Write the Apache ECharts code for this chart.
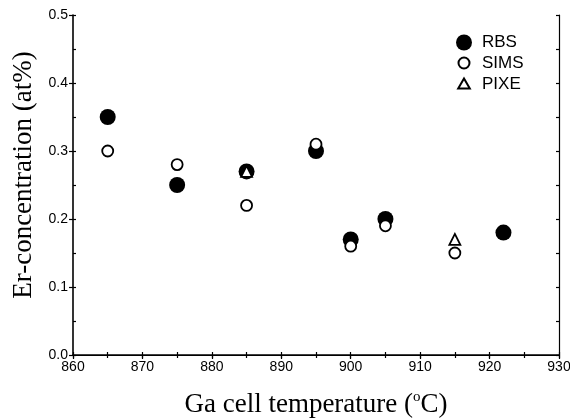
<!DOCTYPE html>
<html>
<head>
<meta charset="utf-8">
<script src="https://cdn.jsdelivr.net/npm/echarts@6/dist/echarts.min.js"></script>
<style>html,body{margin:0;padding:0;background:#fff}#c{width:570px;height:418px}</style>
</head>
<body>
<div id="c"></div>
<script>
var rbsX = [865, 875, 885, 895, 900, 905, 922];
var rbsY = [0.35, 0.25, 0.27, 0.30, 0.17, 0.20, 0.18];
var simsX = [865, 875, 885, 895, 900, 905, 915];
var simsY = [0.30, 0.28, 0.22, 0.31, 0.16, 0.19, 0.15];
var pixeX = [885, 915];
var pixeY = [0.27, 0.17];
var xTicks = [860, 870, 880, 890, 900, 910, 920, 930];
var yTicks = [0.0, 0.1, 0.2, 0.3, 0.4, 0.5];

function pairs(xs, ys) { return xs.map(function (x, i) { return [x, ys[i]]; }); }

var chart = echarts.init(document.getElementById('c'), null, {renderer: 'canvas'});
var lbl = {color: '#000', fontFamily: 'Liberation Sans, Arial', fontSize: 14};
var axisLineStyle = {color: '#000', width: 1.6};
var tickStyle = {color: '#000', width: 1.2};
var option = {
  backgroundColor: '#fff',
  animation: false,
  grid: {left: 73, top: 15, right: 11, bottom: 63, containLabel: false, outerBoundsMode: 'none'},
  legend: {
    orient: 'vertical', left: 455, top: 34, itemGap: 3, padding: 0,
    itemWidth: 16, itemHeight: 16,
    textStyle: {color: '#000', fontFamily: 'Liberation Sans, Arial', fontSize: 17, padding: [0, 0, 0, 5]},
    data: [
      {name: 'RBS', icon: 'circle'},
      {name: 'SIMS', icon: 'path://M0,0L0,0M16,16L16,16M13.5,8A5.5,5.5,0,1,1,2.5,8A5.5,5.5,0,1,1,13.5,8Z'},
      {name: 'PIXE', icon: 'path://M0,0L0,0M16,16L16,16M8,2.5L13.8,12.5L2.2,12.5Z'}
    ]
  },
  xAxis: [
    {type: 'value', position: 'bottom', min: xTicks[0], max: xTicks[xTicks.length - 1], interval: 10,
     axisLine: {lineStyle: axisLineStyle}, axisTick: {show: true, inside: false, length: 4, lineStyle: tickStyle},
     splitLine: {show: false},
     axisLabel: Object.assign({margin: 5}, lbl),
     name: 'Ga cell temperature ({sup|o}C)', nameLocation: 'middle', nameGap: 35,
     nameTextStyle: {color: '#000', fontFamily: 'Liberation Serif, Times New Roman', fontSize: 27,
       rich: {sup: {fontFamily: 'Liberation Serif', fontSize: 15, verticalAlign: 'top', padding: [0, 0, 14, 0], color: '#000'}}}},
    {type: 'value', position: 'bottom', min: 860, max: 930, interval: 5,
     axisLine: {show: false}, axisTick: {show: true, inside: true, length: 3, lineStyle: tickStyle},
     axisLabel: {show: false}, splitLine: {show: false}},
    {type: 'value', position: 'top', min: 860, max: 930, interval: 5,
     axisLine: {lineStyle: {color: '#000', width: 1.2}}, axisTick: {show: true, inside: true, length: 3, lineStyle: tickStyle},
     axisLabel: {show: false}, splitLine: {show: false}}
  ],
  yAxis: [
    {type: 'value', position: 'left', min: yTicks[0], max: yTicks[yTicks.length - 1], interval: 0.1,
     axisLine: {lineStyle: axisLineStyle}, axisTick: {show: true, inside: false, length: 4, lineStyle: tickStyle},
     splitLine: {show: false},
     axisLabel: Object.assign({margin: 5, formatter: function (v) { return v.toFixed(1); }}, lbl),
     name: 'Er-concentration (at%)', nameLocation: 'middle', nameGap: 33, nameRotate: 90,
     nameTextStyle: {color: '#000', fontFamily: 'Liberation Serif, Times New Roman', fontSize: 27, padding: [0, 0, 0, 20]}},
    {type: 'value', position: 'left', min: 0, max: 0.5, interval: 0.05,
     axisLine: {show: false}, axisTick: {show: true, inside: true, length: 3, lineStyle: tickStyle},
     axisLabel: {show: false}, splitLine: {show: false}},
    {type: 'value', position: 'right', min: 0, max: 0.5, interval: 0.05,
     axisLine: {lineStyle: {color: '#000', width: 1.2}}, axisTick: {show: true, inside: true, length: 3, lineStyle: tickStyle},
     axisLabel: {show: false}, splitLine: {show: false}}
  ],
  series: [
    {name: 'RBS', type: 'scatter', symbol: 'circle', symbolSize: 16, data: pairs(rbsX, rbsY),
     itemStyle: {color: '#000', borderColor: '#000', borderWidth: 0, opacity: 1}, z: 2},
    {name: 'SIMS', type: 'scatter', symbol: 'circle', symbolSize: 11, data: pairs(simsX, simsY),
     itemStyle: {color: '#fff', borderColor: '#000', borderWidth: 1.8, opacity: 1}, z: 3},
    {name: 'PIXE', type: 'scatter', symbol: 'triangle', symbolSize: 11, data: pairs(pixeX, pixeY),
     itemStyle: {color: '#fff', borderColor: '#000', borderWidth: 1.8, opacity: 1}, z: 4}
  ]
};
chart.setOption(option);
</script>
</body>
</html>
